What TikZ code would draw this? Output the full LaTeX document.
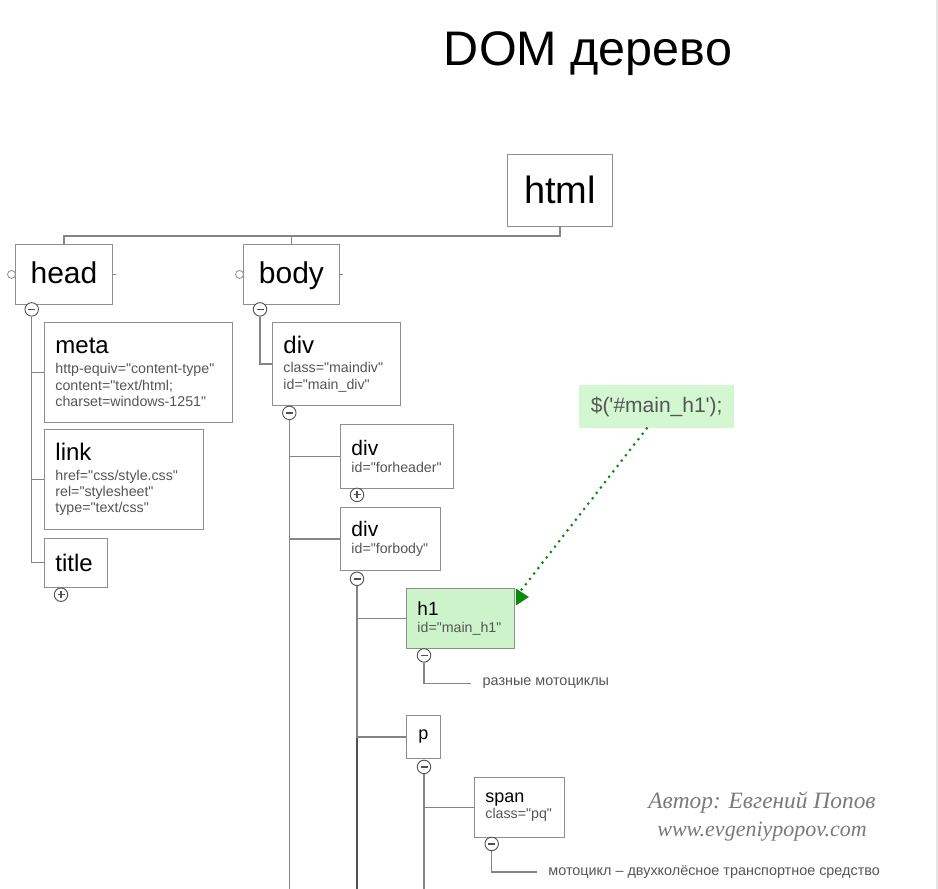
\documentclass[tikz,border=0pt]{standalone}
\usepackage{fontspec}
\setmainfont{Liberation Sans}
\newfontfamily\domfont{Liberation Sans}
\newfontfamily\signfont{Liberation Serif}
\usetikzlibrary{positioning, calc, arrows.meta}

\definecolor{framegray}{HTML}{8E8E8E}
\definecolor{attrgray}{HTML}{555555}
\definecolor{linegray}{HTML}{858585}
\definecolor{trunkgray}{HTML}{505050}
\definecolor{selgreen}{HTML}{CDF3CA}
\definecolor{callgreen}{HTML}{D3F7D0}
\definecolor{pointgreen}{HTML}{0A8A0A}
\definecolor{signgray}{HTML}{7A7A7A}

\newcommand{\tagname}[2]{{\color{black}\fontsize{#1}{#1}\selectfont #2}}

\tikzset{
  tagbox/.style={draw=framegray, line width=0.9pt, fill=white, anchor=north west, align=left, inner xsep=11pt, inner ysep=2pt, text=attrgray, font=\domfont\fontsize{14.2}{16.3}\selectfont},
  rootbox/.style={draw=framegray, line width=0.9pt, fill=white, anchor=north west, inner sep=0pt, font=\domfont\fontsize{#1}{#1}\selectfont},
  conn/.style={draw=linegray, line width=1.3pt},
  trunk/.style={draw=trunkgray, line width=2.3pt},
  toggle/.style={circle, draw=trunkgray, fill=white, line width=0.9pt, minimum size=13.5pt, inner sep=0pt},
  togminus/.style={toggle, path picture={\draw[line width=1.4pt] ([xshift=-3.5pt]path picture bounding box.center) -- ([xshift=3.5pt]path picture bounding box.center);}},
  togplus/.style={toggle, path picture={\draw[line width=1.1pt] ([xshift=-3.5pt]path picture bounding box.center) -- ([xshift=3.5pt]path picture bounding box.center) ([yshift=-3.5pt]path picture bounding box.center) -- ([yshift=3.5pt]path picture bounding box.center);}},
  port/.style={circle, draw=framegray, fill=white, line width=0.8pt, minimum size=8pt, inner sep=0pt},
  leaf/.style={anchor=west, inner xsep=11.5pt, text=attrgray, font=\domfont\fontsize{14.4}{16}\selectfont},
  pointer/.style={draw=pointgreen, line width=3pt, line cap=round, dash pattern=on 0pt off 6.8pt, -{Triangle[length=13pt, width=17pt, line width=0pt]}},
  sign/.style={anchor=base, text=signgray, font=\signfont\itshape\fontsize{#1}{#1}\selectfont}
}

\begin{document}
\begin{tikzpicture}[x=1pt, y=-1pt]

  \useasboundingbox (0,0) rectangle (938,889);
  \coordinate (floor) at (0,889);
  \draw[gray!20, line width=2pt] (936.7,0) -- (936.7,889);

  \node[anchor=base, font=\domfont\fontsize{48.5}{48.5}\selectfont] (caption) at (588,65) {DOM дерево};

  \node[rootbox=38, minimum width=105pt, minimum height=72pt, text height=27pt, text depth=0pt] (html) at (507,154) {html};
  \node[rootbox=30, minimum width=97pt, minimum height=60pt, text height=22pt, text depth=3pt] (head) at (15,244) {head};
  \node[rootbox=30, minimum width=96pt, minimum height=60pt, text height=22pt, text depth=3pt] (body) at (243,244) {body};
  \node[port] (headP) at ($(head.west)+(-3.5,0)$) {};
  \node[port] (bodyP) at ($(body.west)+(-3.5,0)$) {};

  \node[tagbox, text width=166pt, minimum height=100pt] (meta) at (44,322) {\tagname{24}{meta}\\[3.5pt] http-equiv="content-type"\\ content="text/html;\\ charset=windows-1251"};
  \node[tagbox, text width=137pt, minimum height=100pt, below=6pt of meta.south west, anchor=north west] (link) {\tagname{24}{link}\\[3.5pt] href="css/style.css"\\ rel="stylesheet"\\ type="text/css"};
  \node[tagbox, text width=41pt, minimum height=49pt, below=8pt of link.south west, anchor=north west] (title) {\tagname{24}{title}};

  \node[tagbox, text width=106pt, minimum height=83pt] (maindiv) at (272,322) {\tagname{24}{div}\\[3pt] class="maindiv"\\ id="main\_div"};
  \node[tagbox, text width=91pt, minimum height=64pt] (forheader) at (340,424) {\tagname{21}{div}\\ id="forheader"};
  \node[tagbox, text width=78pt, minimum height=63pt, below=18pt of forheader.south west, anchor=north west] (forbody) {\tagname{21}{div}\\ id="forbody"};
  \node[tagbox, fill=selgreen, text width=86pt, minimum height=60pt] (h1) at (406,588) {\tagname{19}{h1}\\ id="main\_h1"};
  \node[rootbox=18, minimum width=34pt, minimum height=43pt] (para) at (406,715) {p};
  \node[tagbox, text width=68pt, minimum height=60pt] (span) at (474,777) {\tagname{18}{span}\\ class="pq"};

  \node[togminus] (headT) at ($(head.south west)+(16.7,4.5)$) {};
  \node[togminus] (bodyT) at ($(body.south west)+(17,4.5)$) {};
  \node[togplus] (titleT) at ($(title.south west)+(17,7)$) {};
  \node[togminus] (maindivT) at ($(maindiv.south west)+(17.3,7)$) {};
  \node[togplus] (forheaderT) at ($(forheader.south west)+(17,6)$) {};
  \node[togminus] (forbodyT) at ($(forbody.south west)+(17,8)$) {};
  \node[togminus] (h1T) at ($(h1.south west)+(18,6.5)$) {};
  \node[togminus] (paraT) at ($(para.south west)+(18,8)$) {};
  \node[togminus] (spanT) at ($(span.south west)+(17.7,6)$) {};

  \node[leaf] (leafA) at (471,683.3) {разные мотоциклы};
  \node[leaf] (leafB) at (536.7,872) {мотоцикл – двухколёсное транспортное средство};

  \node[fill=callgreen, minimum width=155pt, minimum height=43pt, text=attrgray, font=\domfont\fontsize{21}{21}\selectfont] (jq) at (656.7,406.7) {\$('\#main\_h1');};

  \node[sign=23.4] (author) at (762,808) {Автор: Евгений Попов};
  \node[sign=22] (site) at (762,836.7) {www.evgeniypopov.com};

  \draw[conn] (html.south) -- ++(0,9) -| (head.north);
  \draw[conn] (html.south) -- ++(0,9) -| (body.north);
  \draw[conn] (head.east) -- ++(3,0);
  \draw[conn] (body.east) -- ++(3,0);
  \draw[conn] (headT) |- (meta.west);
  \draw[conn] (headT) |- (link.west);
  \draw[conn] (headT) |- (title.west);
  \draw[conn] (bodyT) |- (maindiv.west);
  \draw[conn] (maindivT) -- (maindivT |- floor);
  \draw[conn] (maindivT) |- (forheader.west);
  \draw[conn] (maindivT) |- (forbody.west);
  \draw[trunk] (forbodyT) -- (forbodyT |- floor);
  \draw[conn] (forbodyT) |- (h1.west);
  \draw[conn] (forbodyT) |- (para.west);
  \draw[conn] (h1T) |- (leafA.west);
  \draw[conn] (paraT) -- (paraT |- floor);
  \draw[conn] (paraT) |- (span.west);
  \draw[conn] (spanT) |- (leafB.west);
  \draw[pointer] ([xshift=-10pt]jq.south) -- ($(h1.north east)+(1,9)$) -- ($(h1.north east)+(14,9)$);

\end{tikzpicture}
\end{document}
